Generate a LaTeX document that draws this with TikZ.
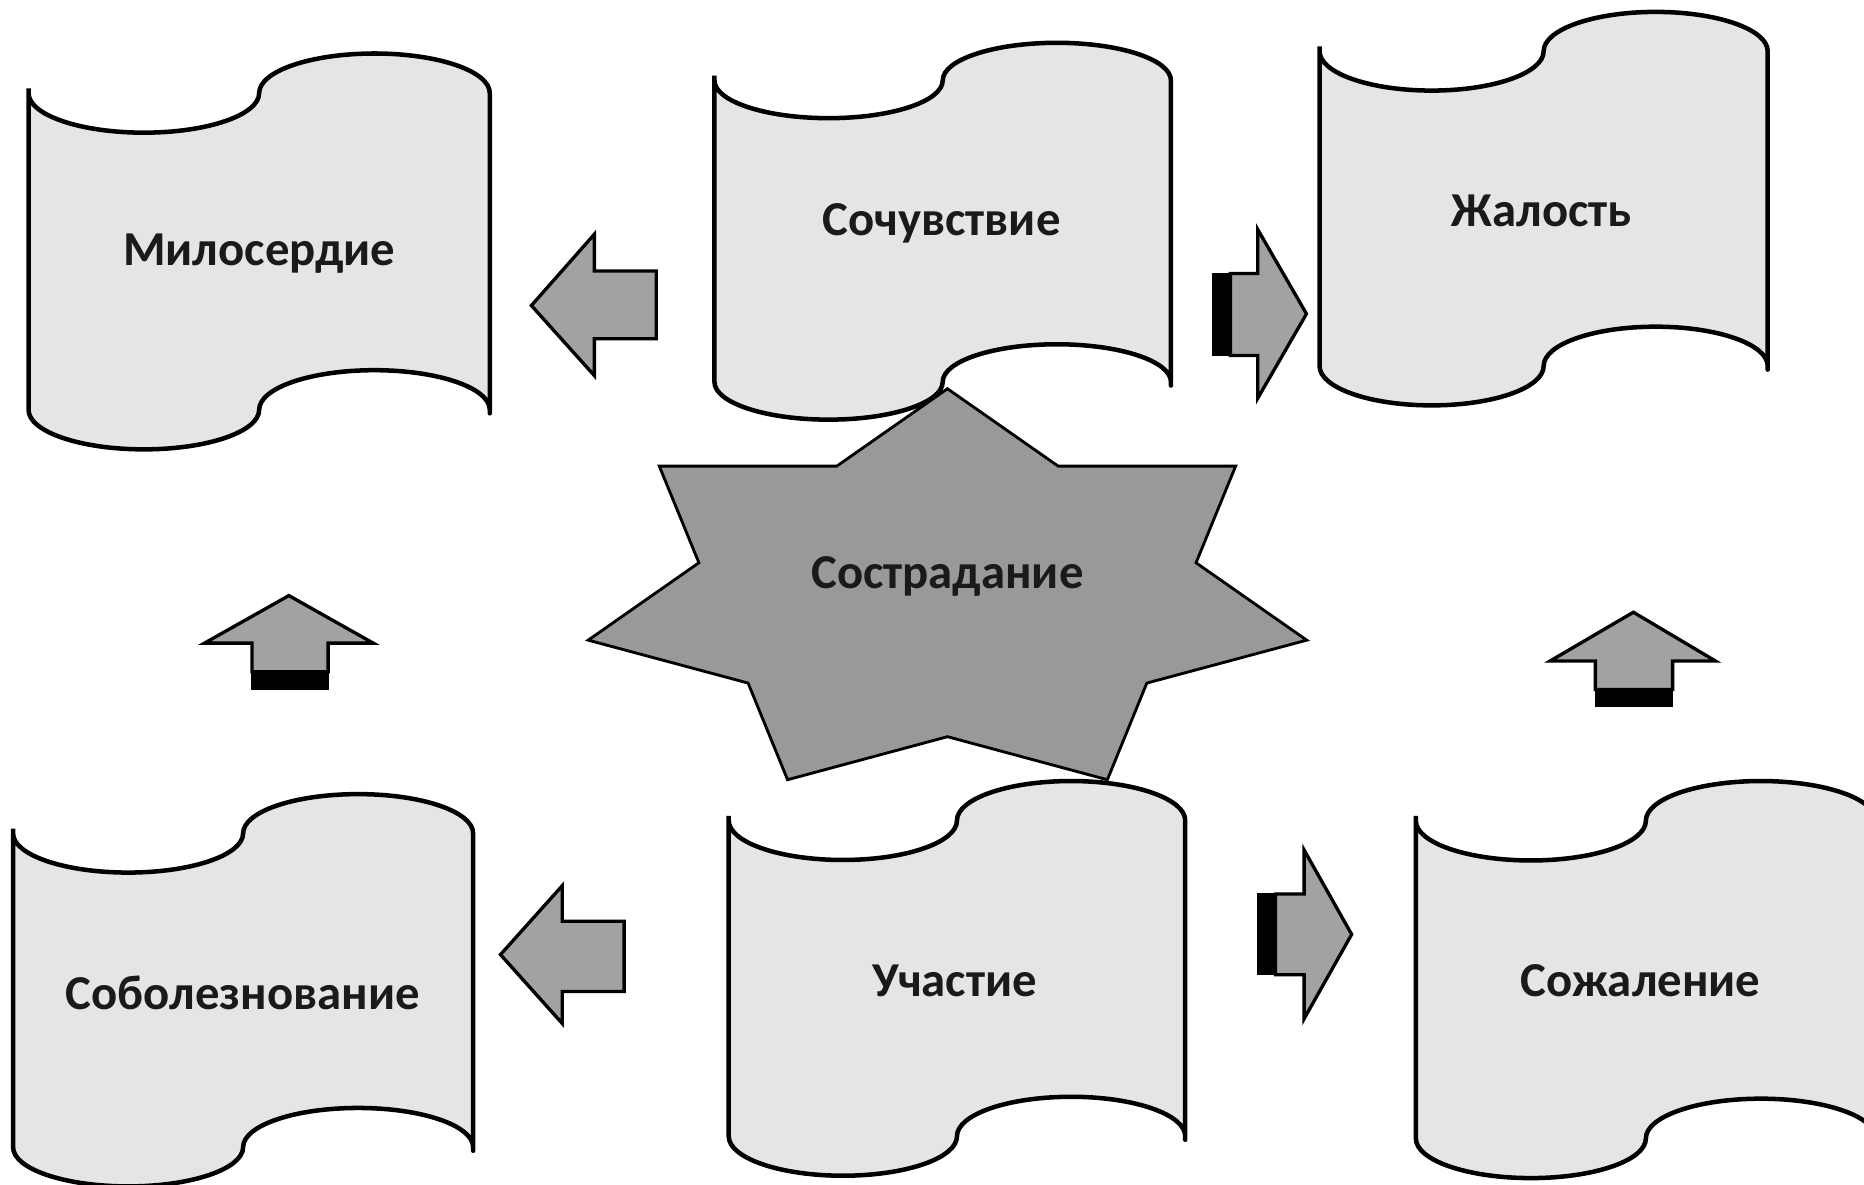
\documentclass[tikz,border=0pt]{standalone}
\usepackage{fontspec}
\setmainfont{Carlito}
\definecolor{tapefill}{HTML}{E5E5E8}
\definecolor{arrowfill}{HTML}{A2A2A2}
\definecolor{starfill}{HTML}{999999}
\definecolor{inkc}{HTML}{1A1A1A}
\tikzset{
  tapestyle/.style={draw=black, fill=tapefill, line width=3.8pt, line join=round},
  arrowstyle/.style={draw=black, fill=arrowfill, line width=2.8pt, line join=miter},
  barstyle/.style={fill=black, draw=black, line width=1pt},
  starstyle/.style={draw=black, fill=starfill, line width=2.4pt, line join=miter},
  lbl/.style={font=\fontsize{41}{49}\selectfont\bfseries, text=inkc, inner sep=0pt},
}
% #1 x0, #2 x1, #3 ytop (crest), #4 ybottom (trough)
\newcommand{\drawtape}[4]{%
  \pgfmathsetmacro\tw{(#2-#1)/4}%
  \pgfmathsetmacro\th{(#4-#3)/10}%
  \pgfmathsetmacro\ta{#3+\th}%
  \pgfmathsetmacro\tb{#4-\th}%
  \pgfmathsetmacro\tk{#3+\th-4}%
  \pgfmathsetmacro\tl{#4-\th+3}%
  \draw[tapestyle] (#1,\ta)
    arc[start angle=180, end angle=0, x radius=\tw, y radius=\th]
    arc[start angle=180, end angle=360, x radius=\tw, y radius=\th]
    -- (#2,\tl) -- (#2,\tb)
    arc[start angle=360, end angle=180, x radius=\tw, y radius=\th]
    arc[start angle=0, end angle=180, x radius=\tw, y radius=\th]
    -- (#1,\tk);%
}
\begin{document}
\begin{tikzpicture}[x=1pt,y=-1pt]
\fill[white] (0,0) rectangle (1568,996);
\useasboundingbox (0,0) rectangle (1568,996);
\clip (0,0) rectangle (1568,996);

% top row tapes
\drawtape{24}{412}{45}{378}
\node[lbl] (milo) at (218,213) {Милосердие};
\drawtape{601}{985}{36}{353}
\node[lbl] (sochu) at (792,188) {Сочувствие};
\drawtape{1110}{1487}{10}{341}
\node[lbl] (zhal) at (1297,177) {Жалость};

% star
\draw[starstyle] (797,327) -- (890.1,392.1) -- (1039.4,392.1) -- (1006.1,473.4)
  -- (1099.2,538.5) -- (964.7,574.6) -- (931.5,655.9) -- (797,619.7)
  -- (662.5,655.9) -- (629.3,574.6) -- (494.8,538.5) -- (587.9,473.4)
  -- (554.6,392.1) -- (703.9,392.1) -- cycle;
\node[lbl] (sostr) at (797,485) {Сострадание};

% bottom row tapes
\drawtape{11}{398}{668}{998}
\node[lbl] (sobol) at (204,835) {Соболезнование};
\drawtape{613}{997}{657}{989}
\node[lbl] (uchas) at (803,825) {Участие};
\drawtape{1191}{1578}{657}{991}
\node[lbl] (sozh) at (1380,825) {Сожаление};

% arrows
% left arrow top
\draw[arrowstyle] (447,257) -- (500,197) -- (500,228) -- (552,228) -- (552,285)
  -- (500,285) -- (500,316) -- cycle;
% right arrow top
\fill[barstyle] (1020,230) rectangle (1036,299);
\draw[arrowstyle] (1035,230) -- (1058,230) -- (1058,193) -- (1099,264)
  -- (1058,335) -- (1058,299) -- (1035,299) -- cycle;
% up arrow left
\fill[barstyle] (212,564) rectangle (276,580);
\draw[arrowstyle] (243,501) -- (314,541) -- (276,541) -- (276,565) -- (212,565)
  -- (212,541) -- (172,541) -- cycle;
% up arrow right
\fill[barstyle] (1342,579) rectangle (1407,594);
\draw[arrowstyle] (1374,515) -- (1443,556) -- (1407,556) -- (1407,580) -- (1342,580)
  -- (1342,556) -- (1304,556) -- cycle;
% left arrow bottom
\draw[arrowstyle] (421,803) -- (473,745) -- (473,775) -- (525,775) -- (525,834)
  -- (473,834) -- (473,861) -- cycle;
% right arrow bottom
\fill[barstyle] (1058,752) rectangle (1074,820);
\draw[arrowstyle] (1073,752) -- (1097,752) -- (1097,715) -- (1137,786)
  -- (1097,857) -- (1097,820) -- (1073,820) -- cycle;
\end{tikzpicture}
\end{document}
